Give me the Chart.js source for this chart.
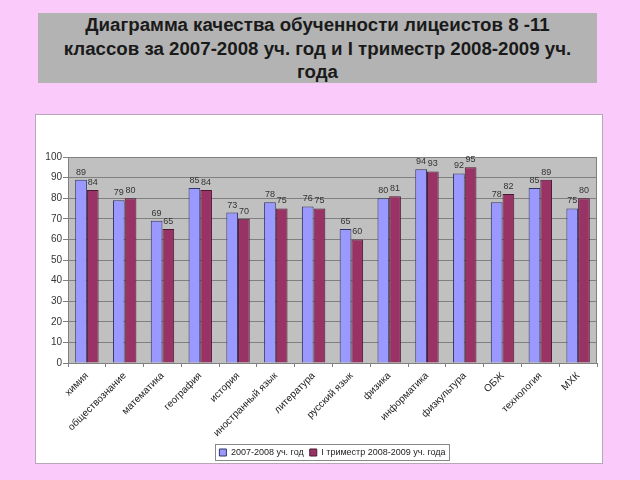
<!DOCTYPE html>
<html><head><meta charset="utf-8">
<script src="https://cdn.jsdelivr.net/npm/chart.js@4.4.0/dist/chart.umd.min.js"></script>
<style>
html,body{margin:0;padding:0;background:#FACBFA;width:640px;height:480px;overflow:hidden;font-family:"Liberation Sans",Arial,sans-serif;}
#title{position:absolute;left:38px;top:13px;width:559px;height:70px;background:#B3B3B3;color:#1a1a1a;font-weight:bold;font-size:18.7px;line-height:23.5px;text-align:center;box-sizing:border-box;padding-top:0px;}
#box{position:absolute;left:35px;top:114px;width:568px;height:350px;background:#fff;border:1px solid #B9A6B9;box-sizing:border-box;}
#wrap{position:absolute;left:40px;top:114px;width:584px;height:350px;}
</style></head><body>
<div id="title">Диаграмма качества обученности лицеистов 8 -11<br>классов за 2007-2008 уч. год и I триместр 2008-2009 уч.<br>года</div>
<div id="box"></div>
<div id="wrap"><canvas id="c" width="584" height="350"></canvas></div>
<script>
const categories = ["химия","обществознание","математика","география","история","иностранный язык","литература","русский язык","физика","информатика","физкультура","ОБЖ","технология","МХК"];
const series2007 = [89,79,69,85,73,78,76,65,80,94,92,78,85,75];
const seriesTrim = [84,80,65,84,70,75,75,60,81,93,95,82,89,80];
const seriesNames = ["2007-2008 уч. год","I триместр 2008-2009 уч. года"];
const yTicks = [0,10,20,30,40,50,60,70,80,90,100];

const plotBg = {
  id:'plotBg',
  afterLayout(chart){
    const lg = chart.legend;
    if(lg){ lg.left += 14; lg.right += 14; lg.top += 3; lg.bottom += 3; }
  },
  beforeDraw(chart){
    const {ctx, chartArea:a} = chart;
    ctx.save(); ctx.fillStyle='#C0C0C0'; ctx.fillRect(a.left,a.top,a.right-a.left,a.bottom-a.top); ctx.restore();
  },
  afterDatasetsDraw(chart){
    const {ctx, chartArea:a} = chart;
    ctx.save(); ctx.strokeStyle='#808080'; ctx.lineWidth=1;
    ctx.strokeRect(a.left+0.5,a.top+0.5,a.right-a.left-1,a.bottom-a.top);
    ctx.restore();
  }
};
const valueLabels = {
  id:'valueLabels',
  afterDatasetsDraw(chart){
    const ctx = chart.ctx;
    ctx.save();
    ctx.font='9px "Liberation Sans", Arial, sans-serif';
    ctx.fillStyle='#333';
    ctx.textAlign='center'; ctx.textBaseline='bottom';
    chart.data.datasets.forEach((ds,i)=>{
      chart.getDatasetMeta(i).data.forEach((bar,j)=>{
        ctx.fillText(String(ds.data[j]), bar.x, bar.y-3);
      });
    });
    ctx.restore();
  }
};
const legendBox = {
  id:'legendBox',
  afterDraw(chart){
    const lg = chart.legend; if(!lg || !lg.legendHitBoxes || !lg.legendHitBoxes.length) return;
    const hb = lg.legendHitBoxes;
    let l=Infinity,r=-Infinity,t=Infinity,b=-Infinity;
    hb.forEach(h=>{l=Math.min(l,h.left);r=Math.max(r,h.left+h.width);t=Math.min(t,h.top);b=Math.max(b,h.top+h.height);});
    const ctx=chart.ctx; ctx.save(); ctx.strokeStyle='#888'; ctx.lineWidth=1;
    ctx.strokeRect(Math.round(l-4)+0.5, Math.round(t-4)+0.5, Math.round(r-l+8), Math.round(b-t+7));
    ctx.restore();
  }
};

new Chart(document.getElementById('c'), {
  type:'bar',
  data:{
    labels:categories,
    datasets:[
      {label:seriesNames[0], data:series2007, backgroundColor:'#9999FF', borderColor:'#333366', borderWidth:1, categoryPercentage:0.62, barPercentage:1},
      {label:seriesNames[1], data:seriesTrim, backgroundColor:'#993366', borderColor:'#4a1a30', borderWidth:1, categoryPercentage:0.62, barPercentage:1}
    ]
  },
  options:{
    responsive:false, animation:false,
    layout:{padding:{top:43,right:27,left:0,bottom:0}},
    plugins:{
      legend:{position:'bottom', labels:{boxWidth:7, boxHeight:7, padding:6, color:'#222', font:{size:9, family:'"Liberation Sans", Arial, sans-serif'}}},
      tooltip:{enabled:false}
    },
    scales:{
      x:{
        grid:{offset:true, drawOnChartArea:false, tickLength:4, color:'#808080'},
        border:{color:'#808080'},
        ticks:{minRotation:45, maxRotation:45, autoSkip:false, color:'#222', font:{size:10, family:'"Liberation Sans", Arial, sans-serif'}, padding:3},
        afterFit(s){ s.height = 76; }
      },
      y:{
        min:0, max:100,
        afterBuildTicks(s){ s.ticks = yTicks.map(v=>({value:v})); },
        grid:{color:'#808080', tickLength:5},
        border:{color:'#808080'},
        ticks:{color:'#333', font:{size:10, family:'"Liberation Sans", Arial, sans-serif'}, padding:1},
        afterFit(s){ s.width = 28; }
      }
    }
  },
  plugins:[plotBg, valueLabels, legendBox]
});
</script>
</body></html>
